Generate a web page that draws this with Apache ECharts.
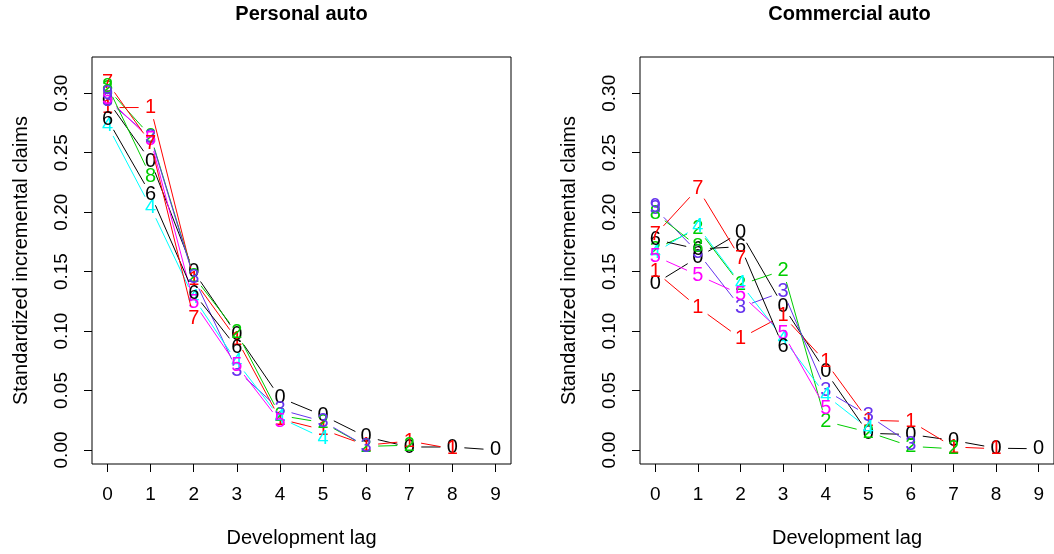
<!DOCTYPE html>
<html>
<head>
<meta charset="utf-8">
<script src="https://cdn.jsdelivr.net/npm/echarts@6/dist/echarts.min.js"></script>
<style>html,body{margin:0;padding:0;background:#fff}#c{width:1054px;height:554px}</style>
</head>
<body>
<div id="c"></div>
<script>
// ---- data ----
const lags = [0,1,2,3,4,5,6,7,8,9];
const xTicks = [0,1,2,3,4,5,6,7,8,9];
const yTicks = [0,0.05,0.10,0.15,0.20,0.25,0.30];
const panelTitles = ['Personal auto','Commercial auto'];
const xName = 'Development lag';
const yName = 'Standardized incremental claims';

// Personal auto: one array per accident year (label 0..9), values by lag
const personal0 = [0.294,0.243,0.150,0.097,0.044,0.029,0.011,0.0025,0.0025,0.000];
const personal1 = [0.288,0.288,0.143,0.093,0.026,0.017,0.004,0.0075,0.001];
const personal2 = [0.304,0.264,0.146,0.099,0.029,0.023,0.003,0.004];
const personal3 = [0.294,0.263,0.145,0.067,0.034,0.024,0.003];
const personal4 = [0.273,0.204,0.128,0.074,0.027,0.010];
const personal5 = [0.296,0.261,0.124,0.071,0.024];
const personal6 = [0.278,0.215,0.132,0.086];
const personal7 = [0.309,0.258,0.111];
const personal8 = [0.306,0.230];
const personal9 = [0.300];

// Commercial auto
const commercial0 = [0.140,0.162,0.183,0.121,0.066,0.014,0.013,0.008,0.0015,0.001];
const commercial1 = [0.150,0.120,0.094,0.113,0.074,0.025,0.024,0.0025,0.001];
const commercial2 = [0.169,0.186,0.139,0.151,0.024,0.015,0.003,0.001];
const commercial3 = [0.203,0.166,0.120,0.133,0.050,0.029,0.005];
const commercial4 = [0.166,0.188,0.140,0.094,0.046,0.018];
const commercial5 = [0.163,0.147,0.131,0.098,0.035];
const commercial6 = [0.177,0.169,0.171,0.087];
const commercial7 = [0.181,0.220,0.161];
const commercial8 = [0.199,0.171];
const commercial9 = [0.205];

const personal = [personal0,personal1,personal2,personal3,personal4,personal5,personal6,personal7,personal8,personal9];
const commercial = [commercial0,commercial1,commercial2,commercial3,commercial4,commercial5,commercial6,commercial7,commercial8,commercial9];

const palette = ['#000000','#FF0000','#00CD00','#6633EE','#00FFFF','#FF00FF'];
const FONT = "'Liberation Sans', Arial, Helvetica, sans-serif";
const GAP = 12;

function seriesFor(panel, rows) {
  return rows.map((vals, s) => {
    const color = palette[s % palette.length];
    return {
      type: 'custom',
      xAxisIndex: panel,
      yAxisIndex: panel,
      data: vals.map((v, i) => [lags[i], v]),
      clip: false,
      renderItem: function (params, api) {
        const i = params.dataIndex;
        const p = api.coord([api.value(0), api.value(1)]);
        const children = [];
        if (i > 0) {
          const q = api.coord([lags[i-1], vals[i-1]]);
          const dx = p[0]-q[0], dy = p[1]-q[1];
          const d = Math.sqrt(dx*dx+dy*dy);
          if (d > 2*GAP) {
            const ux = dx/d, uy = dy/d;
            children.push({
              type: 'line',
              shape: {x1: q[0]+ux*GAP, y1: q[1]+uy*GAP, x2: p[0]-ux*GAP, y2: p[1]-uy*GAP},
              style: {stroke: color, lineWidth: 1}
            });
          }
        }
        children.push({
          type: 'text',
          style: {text: String(s), x: p[0], y: p[1], fill: color, fontSize: 20, fontFamily: FONT, align: 'center', verticalAlign: 'middle'}
        });
        return {type: 'group', children: children};
      }
    };
  });
}

const lefts = [92, 640];
const grids = lefts.map(l => ({left: l, top: 57, width: 419, height: 407, show: true, borderColor: '#000', borderWidth: 1, backgroundColor: 'transparent', containLabel: false}));

const xAxes = lefts.map((l, k) => ({
  type: 'value', gridIndex: k, min: -0.36, max: 9.36, position: 'bottom',
  name: xName, nameLocation: 'middle', nameGap: 64,
  nameTextStyle: {fontSize: 20, fontFamily: FONT, color: '#000'},
  axisLine: {show: false, onZero: false},
  splitLine: {show: false},
  axisTick: {show: true, inside: false, length: 8, customValues: xTicks, lineStyle: {color: '#000', width: 1}},
  axisLabel: {show: true, customValues: xTicks, margin: 21, fontSize: 19, fontFamily: FONT, color: '#000', formatter: v => String(v)}
}));

const yAxes = lefts.map((l, k) => ({
  type: 'value', gridIndex: k, min: -0.0118, max: 0.3305, position: 'left',
  name: yName, nameLocation: 'middle', nameGap: 61, nameRotate: 90,
  nameTextStyle: {fontSize: 20, fontFamily: FONT, color: '#000'},
  axisLine: {show: false, onZero: false},
  splitLine: {show: false},
  axisTick: {show: true, inside: false, length: 8, customValues: yTicks, lineStyle: {color: '#000', width: 1}},
  axisLabel: {show: true, customValues: yTicks, rotate: 90, margin: 21, fontSize: 19, fontFamily: FONT, color: '#000', formatter: v => v.toFixed(2)}
}));

const chart = echarts.init(document.getElementById('c'), null, {renderer: 'canvas'});
chart.setOption({
  animation: false,
  backgroundColor: '#ffffff',
  grid: grids,
  xAxis: xAxes,
  yAxis: yAxes,
  graphic: panelTitles.map((t, k) => ({
    type: 'text', x: lefts[k] + 209.5, y: 14,
    style: {text: t, fill: '#000', fontSize: 20, fontWeight: 'bold', fontFamily: FONT, align: 'center', verticalAlign: 'middle'}
  })),
  series: seriesFor(0, personal).concat(seriesFor(1, commercial))
});
</script>
</body>
</html>
